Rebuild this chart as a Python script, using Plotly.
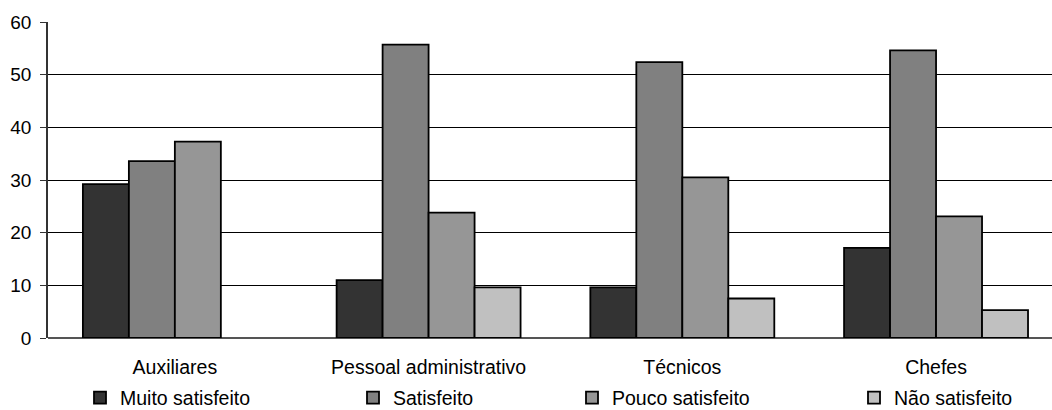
import plotly.graph_objects as go

categories = ["Auxiliares", "Pessoal administrativo", "Técnicos", "Chefes"]

muito_satisfeito = [29.2, 11.0, 9.6, 17.1]
satisfeito = [33.6, 55.7, 52.4, 54.6]
pouco_satisfeito = [37.3, 23.8, 30.5, 23.1]
nao_satisfeito = [None, 9.6, 7.5, 5.3]

series_names = ["Muito satisfeito", "Satisfeito", "Pouco satisfeito", "Não satisfeito"]
series_values = [muito_satisfeito, satisfeito, pouco_satisfeito, nao_satisfeito]
series_colors = ["#333333", "#808080", "#969696", "#c0c0c0"]

y_ticks = [0, 10, 20, 30, 40, 50, 60]

W, H = 1052, 410
FONT = "Liberation Sans, Arial, sans-serif"
TEXT_SIZE = 19.5

# each series gets its own legend box so the entries sit where they belong
legend_left_px = [80, 353, 572, 854]

fig = go.Figure()
for i, (name, vals, col) in enumerate(zip(series_names, series_values, series_colors)):
    legend_id = "legend" if i == 0 else f"legend{i + 1}"
    fig.add_trace(go.Bar(
        x=categories, y=vals, name=name,
        marker=dict(color=col, line=dict(color="#000000", width=1.8)),
        legend=legend_id,
    ))

layout_legends = {}
for i, px in enumerate(legend_left_px):
    key = "legend" if i == 0 else f"legend{i + 1}"
    layout_legends[key] = dict(
        x=px / W, xref="container", xanchor="left",
        y=1 - 398 / H, yref="container", yanchor="middle",
        orientation="h", bgcolor="rgba(0,0,0,0)",
        font=dict(family=FONT, size=TEXT_SIZE, color="#000000"),
    )

fig.update_layout(
    width=W, height=H,
    margin=dict(l=48, r=0, t=22, b=72),
    paper_bgcolor="white", plot_bgcolor="white",
    barmode="group", bargap=0.275, bargroupgap=0,
    font=dict(family=FONT, size=TEXT_SIZE, color="#000000"),
    showlegend=True,
    **layout_legends,
)

fig.update_xaxes(
    type="category",
    range=[-0.5, 3.457],
    showgrid=False, zeroline=False,
    showline=False, ticks="",
    ticklabelstandoff=15,
    tickfont=dict(family=FONT, size=TEXT_SIZE, color="#000000"),
)

fig.update_yaxes(
    range=[0, 60], tickvals=y_ticks,
    showgrid=True, gridcolor="#000000", gridwidth=1,
    zeroline=True, zerolinecolor="#555555", zerolinewidth=1.5,
    showline=True, linecolor="#333333", linewidth=1.5,
    ticks="outside", ticklen=6, tickcolor="#333333", tickwidth=1,
    ticklabelstandoff=5,
    tickfont=dict(family=FONT, size=19, color="#000000"),
)

fig.write_html("out.html")
